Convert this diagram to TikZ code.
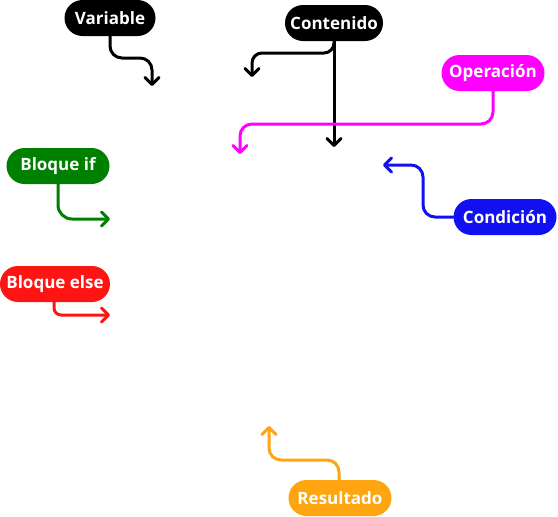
\documentclass[tikz,border=0pt]{standalone}
\usepackage{fontspec}
\setmainfont{Open Sans}
\usetikzlibrary{arrows.meta}
\definecolor{cgreen}{RGB}{0,128,0}
\definecolor{cred}{RGB}{255,20,20}
\definecolor{cblue}{RGB}{16,16,240}
\definecolor{cmag}{RGB}{255,0,255}
\definecolor{corange}{RGB}{255,165,16}
\begin{document}
\begin{tikzpicture}[x=1pt,y=-1pt,
  pill/.style={rectangle, rounded corners=18pt, minimum height=36pt, inner xsep=4pt, inner ysep=0pt,
    text=white, font=\fontsize{17}{20}\selectfont\bfseries},
  conn/.style={line width=3pt, line cap=round, line join=round, rounded corners=12pt,
    -{Straight Barb[length=7pt,width=14pt,line cap=round,line join=round]}}
]
\useasboundingbox (0,0) rectangle (558,517);

\node[pill, fill=black, minimum width=91pt] (var) at (110,18) {Variable};
\node[pill, fill=black, minimum width=98pt] (cont) at (334,23) {Contenido};
\node[pill, fill=cmag, minimum width=103pt] (oper) at (493,73) {Operación};
\node[pill, fill=cblue, minimum width=103pt] (cond) at (505,217) {Condición};
\node[pill, fill=cgreen, minimum width=103pt] (bif) at (58,166) {Bloque if};
\node[pill, fill=cred, minimum width=110pt] (belse) at (55,284) {Bloque else};
\node[pill, fill=corange, minimum width=103pt] (res) at (340,498) {Resultado};

\coordinate (tvar) at (152,86);
\coordinate (tcont1) at (334,147);
\coordinate (tcont2) at (252,77);
\coordinate (toper) at (240,154);
\coordinate (tcond) at (383,165);
\coordinate (tif) at (110,219);
\coordinate (telse) at (110,315);
\coordinate (tres) at (269,426);

\draw[conn, black] (var.south) -- (110,58) -- (152,58) -- (tvar);
\draw[conn, black] (cont.south) -- (tcont1);
\draw[conn, black, rounded corners=10pt] (cont.south) -- (334,53) -- (252,53) -- (tcont2);
\draw[conn, cmag] (oper.south) -- (493,124) -- (240,124) -- (toper);
\draw[conn, cblue] (cond.west) -- (423,217) -- (423,165) -- (tcond);
\draw[conn, cgreen, rounded corners=14pt] (bif.south) -- (58,219) -- (tif);
\draw[conn, cred, rounded corners=7pt] (54,302) -- (54,315) -- (telse);
\draw[conn, corange] (339,481) -- (339,460) -- (269,460) -- (tres);
\end{tikzpicture}
\end{document}
